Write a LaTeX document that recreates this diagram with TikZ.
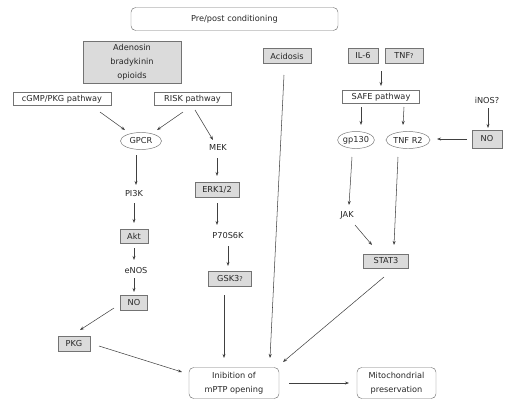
\documentclass[tikz,border=0pt]{standalone}
\usepackage{fontspec}
\setmainfont{DejaVu Sans}
\usetikzlibrary{arrows.meta,calc,shapes.geometric}
\newcommand{\qm}{{\fontsize{5.5}{6}\selectfont ?}}
\begin{document}
\begin{tikzpicture}[x = 0.03cm, y = -0.03cm,
	every node/.style = {font=\fontsize{7}{12}\selectfont, text=black!85, inner sep=1pt},
	caixa/.style = {draw=black!55, fill=white, minimum height=0.39cm},
	cinza/.style = {draw=black!55, fill=black!14, minimum height=0.45cm},
	bola/.style = {ellipse, draw=black!55, minimum height=0.51cm, inner sep=0pt},
	redonda/.style = {draw=black!55, rounded corners=4pt, align=center},
	seta/.style = {draw=black!75, line width=0.45pt, -{Stealth[length=3.5pt,width=2.6pt]}},]
	\useasboundingbox (0,0) rectangle (518,410);
	
	\node[redonda, minimum width=6.21cm, minimum height=0.69cm] (pre) at (234.5,19) {Pre/post conditioning};
	\node[cinza, minimum width=2.94cm, minimum height=1.26cm, align=center] (aden) at (132,62) {Adenosin\\bradykinin\\opioids};
	\node[caixa, minimum width=2.94cm] (cgmp) at (62,99) {cGMP/PKG pathway};
	\node[caixa, minimum width=2.31cm] (risk) at (192.5,99) {RISK pathway};
	\node[bola, minimum width=1.23cm] (gpcr) at (141,141) {GPCR};
	\node (mek) at (218,148) {MEK};
	\node (pi3k) at (134,194) {PI3K};
	\node[cinza, minimum width=0.84cm, minimum height=0.42cm] (akt) at (134,236) {Akt};
	\node (enos) at (136,271) {eNOS};
	\node[cinza, minimum width=0.81cm] (no1) at (134,303) {NO};
	\node[cinza, minimum width=0.96cm] (pkg) at (74,344) {PKG};
	\node[cinza, minimum width=1.32cm] (erk) at (217,190) {ERK1/2};
	\node (p70) at (228,236) {P70S6K};
	\node[cinza, minimum width=1.29cm] (gsk) at (230,279) {GSK3\qm};
	\node[cinza, minimum width=1.44cm] (acid) at (287,56) {Acidosis};
	\node[cinza, minimum width=0.9cm] (il6) at (363,56) {IL-6};
	\node[cinza, minimum width=1.14cm] (tnf) at (404,56) {TNF\qm};
	\node[caixa, minimum width=2.31cm] (safe) at (381,97) {SAFE pathway};
	\node (inos) at (487,100) {iNOS?};
	\node[cinza, minimum width=0.9cm, minimum height=0.54cm] (no2) at (487,139) {NO};
	\node[bola, minimum width=0.99cm] (gp130) at (356,140) {gp130};
	\node[bola, minimum width=1.32cm] (tnfr) at (408,140) {TNF R2};
	\node (jak) at (347,215) {JAK};
	\node[cinza, minimum width=1.35cm, minimum height=0.42cm] (stat) at (386,261) {STAT3};
	\node[redonda, minimum width=2.7cm, minimum height=0.93cm] (inhib) at (234,383) {Inibition of\\mPTP opening};
	\node[redonda, minimum width=2.37cm, minimum height=0.93cm] (mito) at (396.5,383) {Mitochondrial\\preservation};
	
	% left branch
	\draw[seta] ($(cgmp)+(38,13)$) -- ($(gpcr)+(-16,-11)$);
	\draw[seta] ($(risk)+(-9.5,13)$) -- ($(gpcr)+(16,-11)$);
	\draw[seta] ($(risk)+(2.5,11)$) -- ($(mek)+(-5,-8)$);
	\draw[seta] ($(gpcr)+(-5,14)$) -- ($(pi3k)+(2,-9)$);
	\draw[seta] ($(pi3k)+(0,9)$) -- ($(akt)+(0,-13)$);
	\draw[seta] ($(akt)+(0,12)$) -- ($(enos)+(-2,-11)$);
	\draw[seta] ($(enos)+(-2,7)$) -- ($(no1)+(0,-11)$);
	\draw[seta] ($(no1)+(-20,5)$) -- ($(pkg)+(6,-14)$);
	\draw[seta] ($(pkg)+(25,2)$) -- ($(inhib)+(-52,-11)$);
	\draw[seta] ($(mek)+(-1,10)$) -- ($(erk)+(0,-14)$);
	\draw[seta] ($(erk)+(0,13)$) -- ($(p70)+(-11,-11)$);
	\draw[seta] ($(p70)+(0,10)$) -- ($(gsk)+(-2,-13)$);
	\draw[seta] ($(gsk)+(-6,16)$) -- ($(inhib)+(-10,-25)$);
	\draw[seta] ($(acid)+(-3,19)$) -- ($(inhib)+(36,-25)$);
	
	% right branch
	\draw[seta] ($(il6)+(18,15)$) -- ($(safe)+(0,-11)$);
	\draw[seta] ($(safe)+(-20,10)$) -- ($(gp130)+(5,-15)$);
	\draw[seta] ($(safe)+(23,10)$) -- ($(tnfr)+(-5,-15)$);
	\draw[seta] ($(inos)+(1,8)$) -- ($(no2)+(1,-11)$);
	\draw[seta] ($(no2)+(-20,0)$) -- ($(tnfr)+(29,-1)$);
	\draw[seta] ($(gp130)+(-4,17)$) -- ($(jak)+(2,-10)$);
	\draw[seta] ($(jak)+(8,10)$) -- ($(stat)+(-14,-16)$);
	\draw[seta] ($(tnfr)+(-10,17)$) -- ($(stat)+(8,-16)$);
	\draw[seta] ($(stat)+(-2,16)$) -- ($(inhib)+(49,-21)$);
	\draw[seta] ($(inhib)+(55,0)$) -- ($(mito)+(-47.5,0)$);
\end{tikzpicture}
\end{document}
